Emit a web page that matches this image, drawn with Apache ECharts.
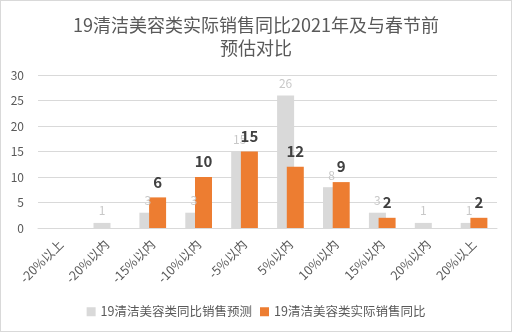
<!DOCTYPE html>
<html><head><meta charset="utf-8">
<script src="https://cdn.jsdelivr.net/npm/echarts@6/dist/echarts.min.js"></script>
<style>html,body{margin:0;padding:0;background:#fff}#c{width:510px;height:330px;border:1px solid #d9d9d9}</style>
</head><body><div id="c"></div>
<script>
const categories = ['-20%以上','-20%以内','-15%以内','-10%以内','-5%以内','5%以内','10%以内','15%以内','20%以内','20%以上'];
const forecast = [null,1,3,3,15,26,8,3,1,1];
const actual = [null,null,6,10,15,12,9,2,null,2];
const seriesNames = ['19清洁美容类同比销售预测','19清洁美容类实际销售同比'];
const titleText = '19清洁美容类实际销售同比2021年及与春节前\n预估对比';
const font = '"Noto Sans CJK SC", "Microsoft YaHei", sans-serif';
const chart = echarts.init(document.getElementById('c'));
chart.setOption({
  animation:false,
  textStyle:{fontFamily:font},
  title:{text:titleText,left:'center',top:8,textStyle:{fontSize:18,fontWeight:'normal',color:'#595959',lineHeight:23,fontFamily:font}},
  grid:{left:37,right:14,top:74,bottom:103},
  legend:{bottom:8,itemWidth:9,itemHeight:9,itemGap:8,icon:'rect',textStyle:{fontSize:12.5,color:'#595959',fontFamily:font},data:seriesNames},
  xAxis:{type:'category',data:categories,axisTick:{show:false},axisLine:{lineStyle:{color:'#d9d9d9'}},
    axisLabel:{rotate:45,fontSize:12.5,color:'#595959',interval:0,margin:14,fontFamily:font}},
  yAxis:{type:'value',min:0,max:30,interval:5,axisLine:{show:false},axisTick:{show:false},
    splitLine:{lineStyle:{color:'#d9d9d9'}},axisLabel:{fontSize:12,color:'#595959',margin:14,fontFamily:font}},
  series:[
    {name:seriesNames[0],type:'bar',data:forecast,barWidth:17,barGap:'-43%',itemStyle:{color:'#d9d9d9'},
      label:{show:true,position:'top',color:'#c8c8c8',fontSize:12,distance:6,fontFamily:font}},
    {name:seriesNames[1],type:'bar',data:actual,barWidth:17,itemStyle:{color:'#ed7d31'},
      label:{show:true,position:'top',color:'#404040',fontSize:15,fontWeight:'bold',distance:8,fontFamily:font}}
  ]
});
</script></body></html>
